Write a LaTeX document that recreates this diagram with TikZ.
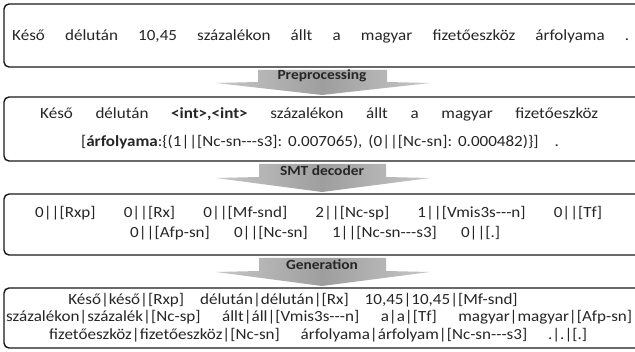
\documentclass[tikz,border=0pt]{standalone}
\usepackage{fontspec}
\setmainfont{Carlito}[FakeStretch=1.1]
\begin{document}
\begin{tikzpicture}[x=1pt,y=-1pt,
  stagebox/.style={draw=black!90,line width=1.4pt,rounded corners=5pt},
  blockarrow/.style={left color=black!22,right color=black!22,middle color=black!38,draw=none},
  arrowlabel/.style={font=\fontsize{14}{16}\selectfont\bfseries,inner sep=0pt,text=black!85},
  txt/.style={font=\fontsize{15.5}{17}\selectfont,inner sep=0pt,anchor=west,text=black!85},
  ctxt/.style={font=\fontsize{15.5}{17}\selectfont,inner sep=0pt,text=black!85}]
\useasboundingbox (0,0) rectangle (635,352);
\clip (0,0) rectangle (635,352);
\fill[white] (0,0) rectangle (635,352);
\newcommand{\jl}[2]{\hbox to #1pt{#2}}
\newcommand{\hf}{\hfill}
\newcommand{\td}{-{}-{}-}
\newcommand{\gp}[1]{\hspace*{#1pt}}
% boxes
\draw[stagebox] (4,4) rectangle (660,67);
\draw[stagebox] (4,97) rectangle (660,161);
\draw[stagebox] (4,194) rectangle (660,255);
\draw[stagebox] (4,288) rectangle (660,348);
% arrows
\shade[blockarrow] (258,70) -- (387,70) -- (387,82) -- (430,83) -- (322,95) -- (216,83) -- (258,82) -- cycle;
\shade[blockarrow] (259,164) -- (386,164) -- (386,177) -- (430,178) -- (322,192) -- (216,178) -- (259,177) -- cycle;
\shade[blockarrow] (259,258) -- (386,258) -- (386,271) -- (430,272) -- (322,286) -- (216,272) -- (259,271) -- cycle;
\node[arrowlabel] (l1) at (322,76) {Preprocessing};
\node[arrowlabel] (l2) at (322,170.5) {SMT decoder};
\node[arrowlabel] (l3) at (322,265) {Generation};
% box 1
\node[txt] (t1) at (12,36) {\jl{617}{Késő\hf délután\hf 10,45\hf százalékon\hf állt\hf a\hf magyar\hf fizetőeszköz\hf árfolyama\hf .}};
% box 2
\node[txt] (t2a) at (40,114) {\jl{558}{Késő\hf délután\hf \textbf{<int>,<int>}\hf százalékon\hf állt\hf a\hf magyar\hf fizetőeszköz}};
\node[ctxt] (t2b) at (320,142) {[\textbf{árfolyama}:\{(1||[Nc-sn\td s3]:\gp{6}0.007065),\gp{6}(0||[Nc-sn]:\gp{6}0.000482)\}]\gp{16}.};
% box 3
\node[txt] (t3a) at (35,213) {\jl{567}{0||[Rxp]\hf 0||[Rx]\hf 0||[Mf-snd]\hf 2||[Nc-sp]\hf 1||[Vmis3s\td n]\hf 0||[Tf]}};
\node[txt] (t3b) at (130,233) {\jl{370}{0||[Afp-sn]\hf 0||[Nc-sn]\hf 1||[Nc-sn\td s3]\hf 0||[.]}};
% box 4
\node[ctxt] (t4a) at (293,300) {Késő|késő|[Rxp]\gp{16}délután|délután|[Rx]\gp{16}10,45|10,45|[Mf-snd]};
\node[txt] (t4b) at (6,317) {\jl{626}{százalékon|százalék|[Nc-sp]\hf állt|áll|[Vmis3s\td n]\hf a|a|[Tf]\hf magyar|magyar|[Afp-sn]}};
\node[txt] (t4c) at (49,335) {\jl{538}{fizetőeszköz|fizetőeszköz|[Nc-sn]\hf árfolyama|árfolyam|[Nc-sn\td s3]\hf .|.|[.]}};
\end{tikzpicture}
\end{document}
